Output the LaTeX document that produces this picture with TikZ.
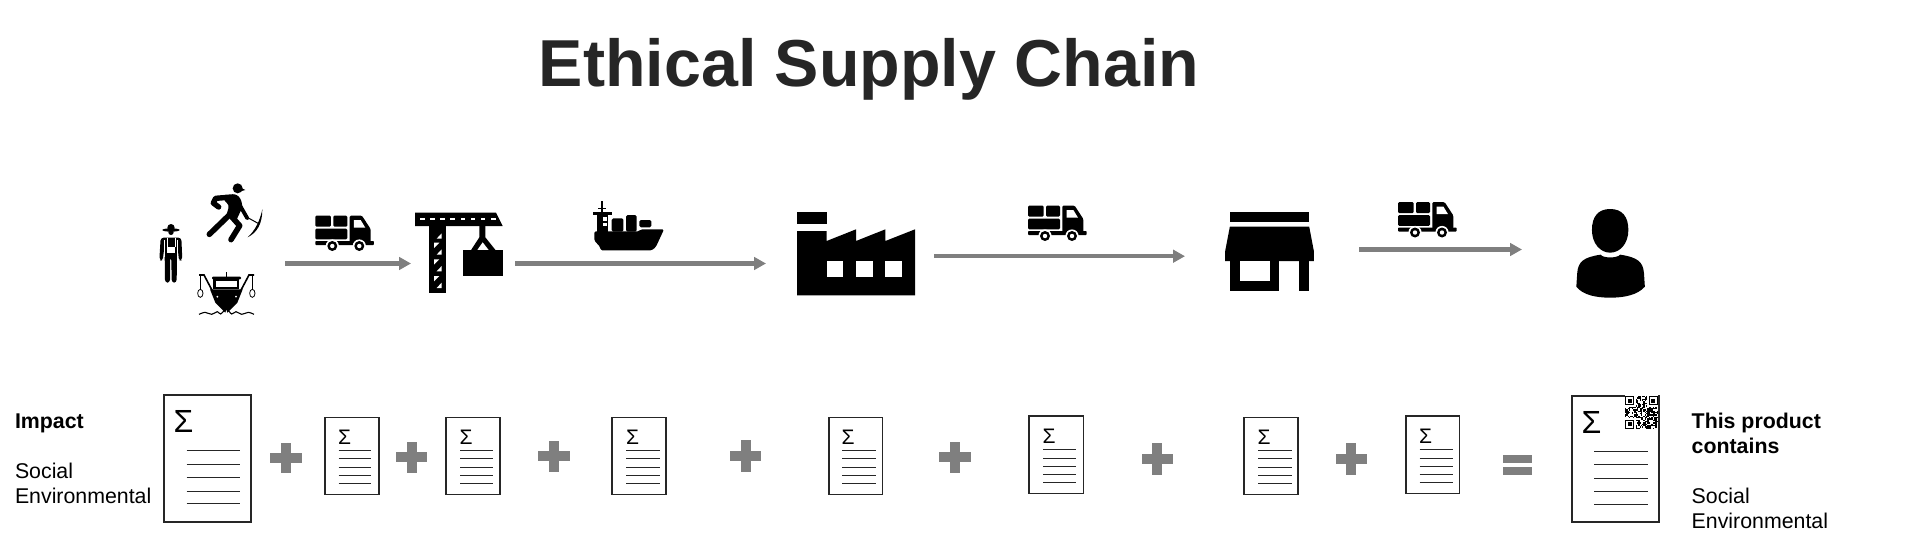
\documentclass[tikz,border=0pt]{standalone}
\usepackage{fontspec}
\setmainfont{Liberation Sans}
\usetikzlibrary{arrows.meta}
\definecolor{ink}{HTML}{262626}
\definecolor{flow}{HTML}{7F7F7F}
\tikzset{
  flowarrow/.style={draw=flow,line width=4.2pt,-{Triangle[length=12pt,width=12.5pt]},shorten >=0pt},
  docbox/.style={draw=ink,line width=1.9pt,fill=white,inner sep=0pt,outer sep=0pt,rectangle},
  docline/.style={draw=ink,line width=0.8pt},
  lbl/.style={inner sep=0pt,outer sep=0pt,anchor=base west,text=black,font=\fontsize{21.33}{25}\selectfont},
  lblb/.style={lbl,font=\fontsize{21.33}{25}\selectfont\bfseries},
  sigbig/.style={inner sep=0pt,outer sep=0pt,anchor=base west,text=black,font=\fontsize{32}{32}\selectfont},
  sigsmall/.style={inner sep=0pt,outer sep=0pt,anchor=base west,text=black,font=\fontsize{21}{21}\selectfont},
  zoomA/.style={shift={(130,160)},x=0.33333pt,y=-0.33333pt},
  zoomB/.style={shift={(550,180)},x=0.33333pt,y=-0.33333pt},
  zoomC/.style={shift={(1000,180)},x=0.43365pt,y=-0.33333pt},
  zoomD/.style={shift={(150,175)},x=0.33333pt,y=-0.33333pt},
}
\newcommand{\docrect}[5]{\node[docbox,minimum width={(#4-#2)*1pt},minimum height={(#5-#3)*1pt}] (#1) at ({(#2+#4)/2},{(#3+#5)/2}) {};}
\newcommand{\doclines}[3]{\foreach \yy in {#3} {\draw[docline] (#1,\yy) -- (#2,\yy);}}
\newcommand{\plussign}[4]{\fill[flow] ({#1-#3/2},{#2-4.8}) rectangle ({#1+#3/2},{#2+4.8}); \fill[flow] ({#1-5},{#2-#4/2}) rectangle ({#1+5},{#2+#4/2});}
\newcommand{\truckicon}[2]{\begin{scope}[shift={(#1,#2)},x=0.33333pt,y=-0.33333pt]
  \fill[rounded corners=1.2pt] (0,2) rectangle (47,35);
  \fill[rounded corners=1.2pt] (54,2) rectangle (96,35);
  \fill[rounded corners=1.2pt] (0,41) rectangle (96,73);
  \fill[rounded corners=1.2pt] (103,2) -- (140,2) -- (166,42) -- (166,82) -- (103,82) -- cycle;
  \fill[rounded corners=0.8pt] (0,78) rectangle (176,90);
  \fill[white] (116,15) -- (136,15) -- (150,38) -- (116,38) -- cycle;
  \foreach \wx in {51,132} {
    \fill[white] (\wx,93) circle (6.6pt);
    \fill (\wx,93) circle (5pt);
    \fill[white] (\wx,93) circle (2.2pt);
  }
\end{scope}}
\begin{document}
\begin{tikzpicture}[x=1pt,y=-1pt]
\useasboundingbox (0,0) rectangle (1909,546);
\fill[white] (0,0) rectangle (1909,546);

% title
\node[inner sep=0pt,outer sep=0pt,anchor=base west,text=ink,font=\fontsize{66.4}{70}\selectfont\bfseries] (title) at (538.8,86) {Ethical Supply Chain};

% farmer
\begin{scope}[zoomA]
  \fill (123,210) ellipse (26 and 5);
  \fill (123,203) circle (11);
  \fill (123,217) circle (8);
  \fill[rounded corners=3pt] (92,233) -- (154,233) -- (157,300) -- (147,303) -- (143,262) -- (141,280) -- (140,368) -- (125,368) -- (124,292) -- (120,292) -- (120,368) -- (105,368) -- (104,280) -- (103,262) -- (98,303) -- (88,300) -- cycle;
  \fill[white] (112,262) rectangle (134,280);
  \draw[white,line width=0.7pt] (111,233) -- (111,262) (135,233) -- (135,262);
  \draw[white,line width=0.7pt] (103,240) -- (103,290) (143,240) -- (143,290);
  % trawler
  \fill (287,335) rectangle (292,352);
  \fill[rounded corners=1pt] (246,350) rectangle (333,358);
  \fill (250,358) rectangle (328,388);
  \fill[white] (258,363) rectangle (320,381);
  \fill (240,388) -- (338,388) -- (322,428) -- (292,458) -- (289,448) -- (286,458) -- (256,428) -- cycle;
  \fill[white] (262,410) circle (3);
  \fill[white] (318,410) circle (3);
  \draw[line width=1.6pt] (207,345) -- (222,345) -- (250,398);
  \draw[line width=1.6pt] (372,345) -- (357,345) -- (329,398);
  \draw[line width=0.6pt] (211,345) -- (211,388) (367,345) -- (367,388);
  \draw[line width=0.8pt,fill=white] (211,400) ellipse (8 and 12);
  \draw[line width=0.8pt,fill=white] (367,400) ellipse (8 and 12);
  \draw[line width=1.1pt] plot[smooth] coordinates {(207,463) (225,457) (245,463) (262,455) (272,462) (289,447) (305,462) (318,455) (335,463) (355,457) (372,463)};
  % crane
  \fill (855,158) -- (1098,158) -- (1118,198) -- (855,198) -- cycle;
  \foreach \dx in {870,900,931,961,992,1022,1052,1083} {\fill[white] (\dx,174) rectangle ++(14,7);}
  \fill (897,198) rectangle (947,400);
  \foreach \ty in {220,268,318,368} {
    \fill[white] (935,\ty) -- (935,{\ty+16}) -- (920,{\ty+16}) -- cycle;
  }
  \foreach \ty in {248,298,348} {
    \fill[white] (912,\ty) -- (928,\ty) -- (912,{\ty+16}) -- cycle;
  }
  \fill (1048,198) -- (1066,198) -- (1066,232) -- (1098,272) -- (1022,272) -- (1048,232) -- cycle;
  \fill[white] (1058,247) -- (1076,270) -- (1042,270) -- cycle;
  \fill (1000,270) rectangle (1118,347);
\end{scope}

% miner
\begin{scope}[zoomD]
  \fill (263,40) circle (15);
  \fill (268,36) -- (286,45) -- (268,50) -- cycle;
  \fill[rounded corners=3pt] (215,60) -- (258,57) -- (272,70) -- (278,95) -- (258,138) -- (228,125) -- (238,90) -- (225,80) -- cycle;
  \draw[line width=5.4pt,line cap=round,line join=round] (222,68) -- (197,70) -- (190,84) -- (206,96);
  \draw[line width=5.6pt,line cap=round] (240,118) -- (178,178);
  \draw[line width=5.6pt,line cap=round,line join=round] (245,125) -- (269,152) -- (243,194);
  \draw[line width=3.8pt,line cap=round] (268,88) -- (292,130);
  \draw[line width=1pt] (290,126) -- (326,146);
  \fill (337,103) .. controls (337,146) and (322,172) .. (293,187) .. controls (316,166) and (330,136) .. (337,103) -- cycle;
\end{scope}

% cargo ship and factory
\begin{scope}[zoomB]
  \fill (154,62) rectangle (159,100);
  \fill (144,84) rectangle (169,88);
  \fill (128,97) -- (185,97) -- (185,104) -- (128,104) -- cycle;
  \fill (140,104) rectangle (175,155);
  \fill[white] (158,112) rectangle (170,122);
  \fill[white] (158,128) rectangle (170,138);
  \fill[rounded corners=1.5pt] (185,115) rectangle (220,155);
  \fill[rounded corners=1.5pt] (228,105) rectangle (260,155);
  \fill[rounded corners=1.5pt] (268,120) rectangle (304,142);
  \fill[rounded corners=1.5pt] (133,154) -- (268,154) -- (272,148) -- (342,148) -- (318,200) -- (306,211) -- (152,211) -- (150,200) -- (133,182) -- cycle;
  % factory
  \fill (741,97) rectangle (830,132);
  \fill (741,153) -- (830,153) -- (830,183) -- (918,148) -- (918,183) -- (1006,148) -- (1006,183) -- (1095,148) -- (1095,346) -- (741,346) -- cycle;
  \fill[white] (830,243) rectangle (879,292);
  \fill[white] (918,243) rectangle (968,292);
  \fill[white] (1006,243) rectangle (1055,292);
\end{scope}

% shop and person
\begin{scope}[zoomC]
  \fill (530,95) rectangle (713,126);
  \fill (530,140) -- (713,140) -- (724,215) -- (724,243) -- (519,243) -- (519,215) -- cycle;
  \fill (530,243) rectangle (643,332);
  \fill[white] (553,243) rectangle (622,303);
  \fill (689,243) rectangle (713,332);
  \fill (1407,87) .. controls (1435,87) and (1449,110) .. (1449,150) .. controls (1449,190) and (1430,218) .. (1407,218) .. controls (1384,218) and (1365,190) .. (1365,150) .. controls (1365,110) and (1379,87) .. (1407,87) -- cycle;
  \fill (1385,224) .. controls (1390,235) and (1424,235) .. (1430,224) .. controls (1470,232) and (1483,245) .. (1485,280) -- (1487,320) .. controls (1470,345) and (1440,353) .. (1407,353) .. controls (1374,353) and (1344,345) .. (1329,320) -- (1331,280) .. controls (1333,245) and (1345,232) .. (1385,224) -- cycle;
\end{scope}

% trucks
\truckicon{315.3}{215}
\truckicon{1028}{205}
\truckicon{1398}{201.5}

% flow arrows
\coordinate (a1s) at (285,263.5);
\coordinate (a1e) at (411,263.5);
\coordinate (a2s) at (515,263.5);
\coordinate (a2e) at (766,263.5);
\coordinate (a3s) at (934,256.2);
\coordinate (a3e) at (1185,256.2);
\coordinate (a4s) at (1359,249.5);
\coordinate (a4e) at (1522,249.5);
\draw[flowarrow] (a1s) -- (a1e);
\draw[flowarrow] (a2s) -- (a2e);
\draw[flowarrow] (a3s) -- (a3e);
\draw[flowarrow] (a4s) -- (a4e);

\begin{scope}[yshift=1pt]
% documents
\docrect{d0}{164}{396}{251}{523}
\docrect{d1}{325}{418.5}{379}{495.5}
\docrect{d2}{446}{418.5}{500}{495.5}
\docrect{d3}{612}{418.5}{666}{495.5}
\docrect{d4}{829}{418.5}{882.5}{495.5}
\docrect{d5}{1029}{417}{1083.5}{494.5}
\docrect{d6}{1244}{418.5}{1298}{495.5}
\docrect{d7}{1406}{417}{1459.5}{494.5}
\docrect{d8}{1572}{397}{1659}{523}

\doclines{186.5}{240}{451,465,478.5,492,504}
\doclines{338.5}{371}{451.3,459.5,468,476,484}
\doclines{460}{493}{451.3,459.5,468,476,484}
\doclines{626.4}{659.7}{451.3,459.5,468,476,484}
\doclines{842.2}{875.5}{451.3,459.5,468,476,484}
\doclines{1043}{1076.4}{450.3,459,467.3,475.3,483.3}
\doclines{1258.3}{1291.6}{451.3,459.5,468,476,484}
\doclines{1419.5}{1452.5}{450.3,459,467.3,475.3,483.3}
\doclines{1594}{1648}{452,465,479,492,505}

\node[sigbig] (s0) at (173.5,433) {Σ};
\node[sigsmall] (s1) at (338,445) {Σ};
\node[sigsmall] (s2) at (459.5,445) {Σ};
\node[sigsmall] (s3) at (626,445) {Σ};
\node[sigsmall] (s4) at (841.5,445) {Σ};
\node[sigsmall] (s5) at (1042.5,444) {Σ};
\node[sigsmall] (s6) at (1257.5,445) {Σ};
\node[sigsmall] (s7) at (1419,444) {Σ};
\node[sigbig] (s8) at (1581.7,434) {Σ};

% QR code
\fill[white] (1624.6,396) rectangle (1657.6,429.4);
\begin{scope}[shift={(1625,397)},x=1.32pt,y=-1.32pt]
  \foreach \i in {0,...,24} {
    \foreach \j in {0,...,24} {
      \pgfmathtruncatemacro{\qrbit}{mod(mod(\i*31+\j*17,23)*mod(\i*13+\j*7+3,19)+\i*\j,11)<6 ? 1 : 0}
      \pgfmathtruncatemacro{\qrfree}{((\i<8 && \j<8) || (\i>16 && \j<8) || (\i<8 && \j>16)) ? 0 : 1}
      \ifnum\qrbit=1 \ifnum\qrfree=1
        \fill (\i,\j) rectangle ++(1,1);
      \fi\fi
    }
  }
  \foreach \fx/\fy in {0/0,18/0,0/18} {
    \fill (\fx,\fy) rectangle ++(7,7);
    \fill[white] ({\fx+1},{\fy+1}) rectangle ++(5,5);
    \fill ({\fx+2},{\fy+2}) rectangle ++(3,3);
  }
\end{scope}

% operators
\plussign{286}{459}{32}{30}
\plussign{411.5}{458}{31}{31}
\plussign{553.7}{457}{32}{31}
\plussign{745.8}{457}{31}{32}
\plussign{955}{458}{32}{31}
\plussign{1157}{460}{31}{32}
\plussign{1351}{460}{31}{32}
\fill[flow] (1503,456) rectangle (1532,464);
\fill[flow] (1503,468) rectangle (1532,476);

% labels
\node[lblb] (impact) at (15,429) {Impact};
\node[lbl] (lsoc) at (15,479) {Social};
\node[lbl] (lenv) at (15,504) {Environmental};
\node[lblb] (thisp) at (1691.7,429) {This product};
\node[lblb] (cont) at (1691.7,454) {contains};
\node[lbl] (rsoc) at (1691.7,504) {Social};
\node[lbl] (renv) at (1691.7,529) {Environmental};
\end{scope}
\end{tikzpicture}
\end{document}
